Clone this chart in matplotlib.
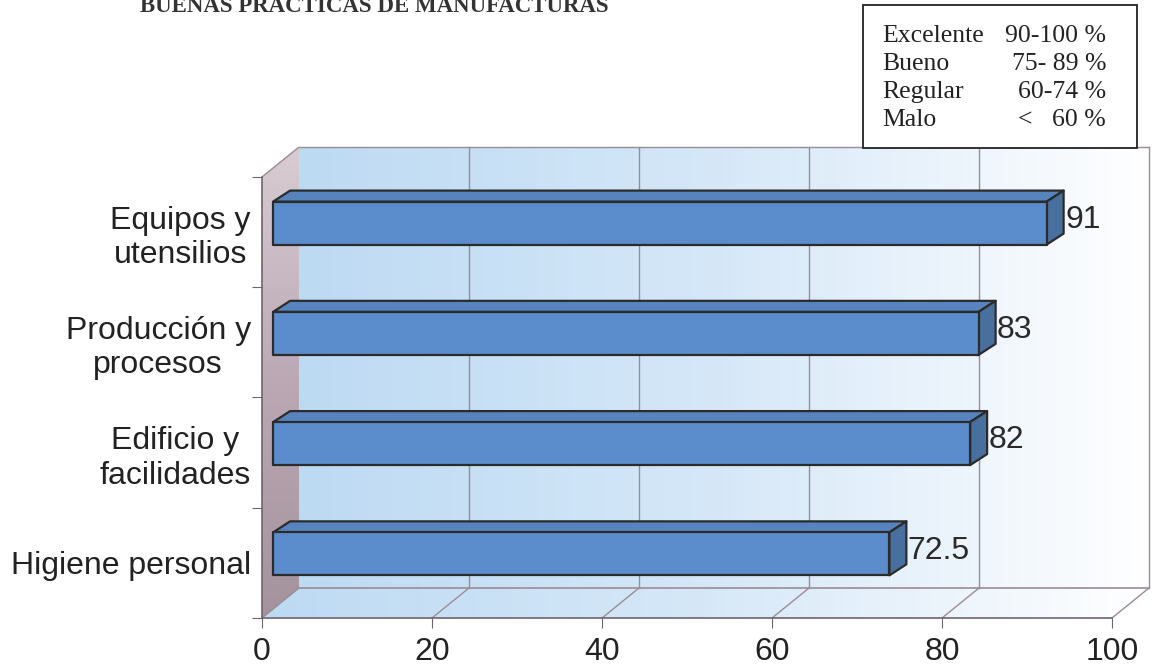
import numpy as np
import matplotlib.pyplot as plt
from matplotlib.patches import Polygon, Rectangle
from matplotlib.colors import LinearSegmentedColormap

plt.rcParams['font.family'] = ['Liberation Sans', 'DejaVu Sans']

# data
categories = ['Higiene personal', 'Edificio y\nfacilidades',
              'Producción y\nprocesos', 'Equipos y\nutensilios']
values = [72.5, 82, 83, 91]
value_labels = ['72.5', '82', '83', '91']
x_ticks = [0, 20, 40, 60, 80, 100]
rating_names = ['Excelente', 'Bueno', 'Regular', 'Malo']
rating_ranges = ['90-100 %', '75- 89 %', '60-74 %', '<   60 %']
title = 'BUENAS PRACTICAS DE MANUFACTURAS'

# oblique "3D" projection: depth d in [0, 1] shifts right / up
DX, DY = 4.35, 0.272
BAR_D0 = 0.3               # depth where the bar's front face sits
BAR_DX, BAR_DY = 2.0, 0.10  # bar thickness offset
BAR_H = 0.39


def P(v, c, d):
    return (v + d * DX, c + d * DY)


fig = plt.figure(figsize=(11.54, 6.68), dpi=100)
ax = fig.add_axes([262 / 1154, 50 / 668, 887 / 1154, 471 / 668])
n = len(categories)
lo, hi = -0.5, n - 0.5
vmax = x_ticks[-1]

grad_h = np.linspace(0, 1, 256).reshape(1, -1)
grad_v = np.linspace(0, 1, 256).reshape(-1, 1)
wall_cmap = LinearSegmentedColormap.from_list('wall', ['#bddaf3', '#d6e8f8', '#ffffff'])
side_cmap = LinearSegmentedColormap.from_list('side', ['#a4929c', '#bba8b4', '#d8ccd2'])

# back wall
ax.imshow(grad_h, extent=(DX, vmax + DX, lo + DY, hi + DY), cmap=wall_cmap,
          aspect='auto', zorder=0)

# floor
floor = Polygon([P(0, lo, 0), P(vmax, lo, 0), P(vmax, lo, 1), P(0, lo, 1)],
                closed=True, facecolor='none', edgecolor='none')
ax.add_patch(floor)
im = ax.imshow(grad_h, extent=(0, vmax + DX, lo, lo + DY), cmap=wall_cmap,
               aspect='auto', zorder=0)
im.set_clip_path(floor)

# left side wall
side = Polygon([P(0, lo, 0), P(0, hi, 0), P(0, hi, 1), P(0, lo, 1)],
               closed=True, facecolor='none', edgecolor='none')
ax.add_patch(side)
im2 = ax.imshow(grad_v, extent=(0, DX, lo, hi + DY), cmap=side_cmap, origin='lower',
                aspect='auto', zorder=0.5)
im2.set_clip_path(side)

grid_col = '#9a8c96'
for v in x_ticks[1:]:
    ax.plot(*zip(P(v, lo, 1), P(v, hi, 1)), color=grid_col, lw=1, zorder=1, clip_on=False)
    ax.plot(*zip(P(v, lo, 0), P(v, lo, 1)), color=grid_col, lw=1, zorder=1, clip_on=False)
ax.plot(*zip(P(0, hi, 1), P(vmax, hi, 1)), color=grid_col, lw=1, zorder=1, clip_on=False)
ax.plot(*zip(P(0, lo, 1), P(vmax, lo, 1)), color=grid_col, lw=1.2, zorder=1)
ax.plot(*zip(P(0, hi, 0), P(0, hi, 1)), color=grid_col, lw=1, zorder=1)
ax.plot(*zip(P(0, lo, 0), P(0, lo, 1)), color=grid_col, lw=1, zorder=1)

# bars
front_col, top_col, side_col, edge_col = '#5b8dcd', '#5783be', '#48709f', '#2b2b2b'
for i, v in enumerate(values):
    x0, y0 = P(0, i - BAR_H / 2, BAR_D0)
    x1, y1 = P(v, i + BAR_H / 2, BAR_D0)
    front = [(x0, y0), (x1, y0), (x1, y1), (x0, y1)]
    top = [(x0, y1), (x1, y1), (x1 + BAR_DX, y1 + BAR_DY), (x0 + BAR_DX, y1 + BAR_DY)]
    rside = [(x1, y0), (x1 + BAR_DX, y0 + BAR_DY), (x1 + BAR_DX, y1 + BAR_DY), (x1, y1)]
    for pts, col in ((top, top_col), (rside, side_col), (front, front_col)):
        ax.add_patch(Polygon(pts, closed=True, facecolor=col, edgecolor=edge_col,
                             lw=1.6, joinstyle='round', zorder=3))
    ax.annotate(value_labels[i], (x1 + BAR_DX, i + BAR_D0 * DY + BAR_DY / 2 - 0.02),
                xytext=(1, 0), textcoords='offset points', ha='left', va='center',
                fontsize=23, color='#2a2a2a', zorder=4)

ax.set_xlim(0, vmax + DX)
ax.set_ylim(lo, hi + DY)

axis_col = '#6e6470'
for s in ('top', 'right'):
    ax.spines[s].set_visible(False)
ax.spines['left'].set_bounds(lo, hi)
ax.spines['bottom'].set_bounds(0, vmax)
for s in ('left', 'bottom'):
    ax.spines[s].set_color(axis_col)
    ax.spines[s].set_linewidth(1.2)
    ax.spines[s].set_zorder(2)

ax.set_xticks(x_ticks)
ax.set_xticklabels([str(t) for t in x_ticks])
ax.tick_params(axis='x', length=7, color=axis_col, labelsize=23, labelcolor='#222222', pad=7)
ax.set_yticks(np.arange(lo, hi + 0.01, 1))
ax.set_yticklabels([])
ax.tick_params(axis='y', which='major', length=7, color=axis_col)
ax.set_yticks(range(n), minor=True)
ax.set_yticklabels(categories, minor=True, multialignment='center')
ax.tick_params(axis='y', which='minor', length=0, pad=8, labelsize=23, labelcolor='#222222')

# title, cut off by the top edge of the scan (as in the original)
fig.text(140 / 1154, 1 - 12 / 668, title, family='Liberation Serif', weight='bold',
         fontsize=16.5, color='#333333', ha='left', va='baseline')

# rating box
fig.add_artist(Rectangle((863 / 1154, 1 - 148 / 668), 274 / 1154, 143 / 668,
                         transform=fig.transFigure, facecolor='white',
                         edgecolor='#222222', lw=1.3, zorder=5))
for k, (name, rng) in enumerate(zip(rating_names, rating_ranges)):
    yb = 1 - (42 + 28 * k) / 668
    fig.text(882 / 1154, yb, name, family='Liberation Serif', fontsize=18.5,
             color='#222222', ha='left', va='baseline', zorder=6)
    fig.text(1106 / 1154, yb, rng, family='Liberation Serif', fontsize=18.5,
             color='#222222', ha='right', va='baseline', zorder=6)

fig.savefig('out.png', dpi=100)
